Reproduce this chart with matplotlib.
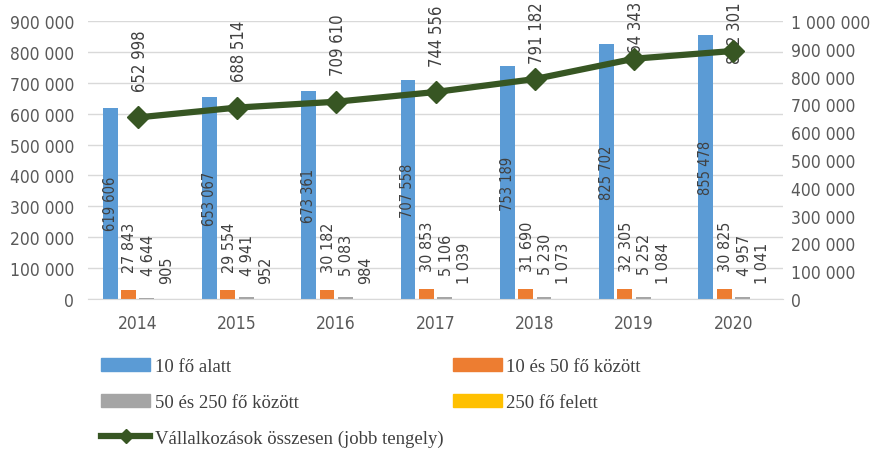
import matplotlib.pyplot as plt
import numpy as np
from matplotlib.lines import Line2D
from matplotlib.patches import Patch
from matplotlib.ticker import FuncFormatter

years = ['2014', '2015', '2016', '2017', '2018', '2019', '2020']
under_10 = [619606, 653067, 673361, 707558, 753189, 825702, 855478]
from_10_to_50 = [27843, 29554, 30182, 30853, 31690, 32305, 30825]
from_50_to_250 = [4644, 4941, 5083, 5106, 5230, 5252, 4957]
over_250 = [905, 952, 984, 1039, 1073, 1084, 1041]
total = [652998, 688514, 709610, 744556, 791182, 864343, 892301]

series_names = ['10 fő alatt', '10 és 50 fő között', '50 és 250 fő között', '250 fő felett']
line_name = 'Vállalkozások összesen (jobb tengely)'
colors = ['#5B9BD5', '#ED7D31', '#A5A5A5', '#FFC000']
green = '#375623'
txt = '#404040'
font = dict(family='DejaVu Sans', stretch='condensed')


def fmt(v, pos=None):
    return f'{int(v):,}'.replace(',', ' ')


fig = plt.figure(figsize=(8.74, 4.52), dpi=100)
ax = fig.add_axes([88 / 874, 152 / 452, 695 / 874, 278 / 452])
x = np.arange(len(years))
step = 0.185
width = 0.15

# bars + labels
offsets = [0, 13, 16.5, 11.5]
for i, vals in enumerate([under_10, from_10_to_50, from_50_to_250, over_250]):
    xs = x + (i - 1.5) * step
    ax.bar(xs, vals, width, color=colors[i], zorder=2)
    for xx, v in zip(xs, vals):
        if i == 0:
            ax.text(xx, v / 2, fmt(v), rotation=90, ha='center', va='center',
                    fontsize=10.5, color=txt, **font)
        else:
            ax.annotate(fmt(v), (xx + 0.015, v), xytext=(0, offsets[i]), textcoords='offset points',
                        rotation=90, ha='center', va='bottom', fontsize=11.5, color=txt, **font)

ax.set_xlim(-0.5, 6.5)
ax.set_ylim(0, 900000)
ax.set_yticks(np.arange(0, 900001, 100000))
ax.yaxis.set_major_formatter(FuncFormatter(fmt))
ax.set_xticks(x)
ax.set_xticklabels(years)
ax.grid(axis='y', color='#D9D9D9', lw=1, zorder=0)
ax.set_axisbelow(True)
for s in ['top', 'left', 'right']:
    ax.spines[s].set_visible(False)
ax.spines['bottom'].set_color('#D9D9D9')
ax.tick_params(length=0, colors='#595959', labelsize=12.5)
ax.tick_params(axis='x', pad=11)
ax.tick_params(axis='y', pad=10)
for lab in ax.get_xticklabels() + ax.get_yticklabels():
    lab.set_family(font['family'])
    lab.set_stretch(font['stretch'])

# line on right axis
ax2 = ax.twinx()
ax2.set_ylim(0, 1000000)
ax2.set_yticks(np.arange(0, 1000001, 100000))
ax2.yaxis.set_major_formatter(FuncFormatter(fmt))
for s in ax2.spines.values():
    s.set_visible(False)
ax2.tick_params(length=0, colors='#595959', labelsize=12.5, pad=6)
for lab in ax2.get_yticklabels():
    lab.set_family(font['family'])
    lab.set_stretch(font['stretch'])
ax2.plot(x, total, color=green, lw=4.5, marker='D', ms=11, zorder=3)

line_texts = []
for xx, v in zip(x, total):
    t = ax2.annotate(fmt(v), (xx + 0.02, v), xytext=(0, 19), textcoords='offset points',
                     rotation=90, ha='center', va='bottom', fontsize=12, color=txt,
                     zorder=1, annotation_clip=False, **font)
    line_texts.append(t)

# keep line labels inside the picture
fig.canvas.draw()
H = fig.bbox.height
for t in line_texts:
    bb = t.get_window_extent()
    if bb.y1 > H - 2:
        dx, dy = t.xyann
        t.xyann = (dx, dy - (bb.y1 - (H - 2)) * 72 / fig.dpi)

# legend
line_proxy = Line2D([], [], color=green, lw=4.5, marker='D', ms=7)
patches = [Patch(color=c) for c in colors]
handles = [patches[0], patches[2], line_proxy, patches[1], patches[3]]
names = [series_names[0], series_names[2], line_name, series_names[1], series_names[3]]
fig.legend(handles, names, ncol=2, loc='upper left', bbox_to_anchor=(92 / 874, 0.226),
           frameon=False, borderpad=0, handlelength=2.6, handletextpad=0.25,
           columnspacing=0.5, labelspacing=0.98,
           prop={'family': 'Liberation Serif', 'size': 13.5}, labelcolor=txt)

fig.savefig('out.png', dpi=100)
